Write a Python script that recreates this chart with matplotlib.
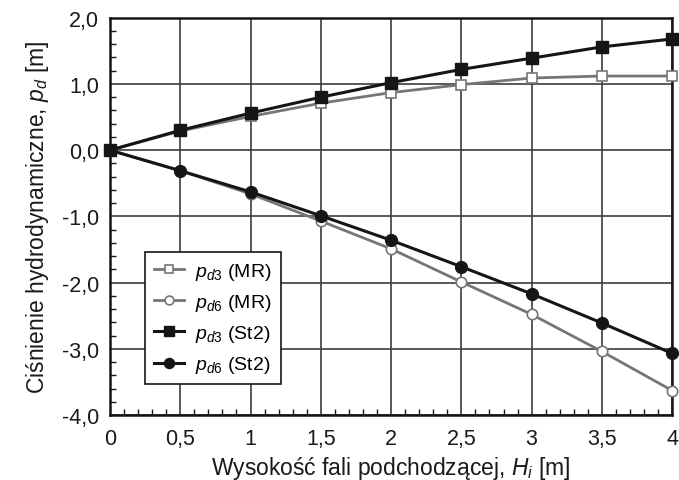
import matplotlib
matplotlib.use("Agg")
import matplotlib.pyplot as plt
from matplotlib.ticker import MultipleLocator, FuncFormatter

plt.rcParams['font.family'] = ['Liberation Sans', 'DejaVu Sans']
plt.rcParams['mathtext.fontset'] = 'custom'
plt.rcParams['mathtext.it'] = 'Liberation Sans:italic'
plt.rcParams['mathtext.rm'] = 'Liberation Sans'

H = [0, 0.5, 1, 1.5, 2, 2.5, 3, 3.5, 4]
pd3_MR = [0, 0.29, 0.51, 0.71, 0.87, 0.99, 1.09, 1.12, 1.12]
pd6_MR = [0, -0.31, -0.66, -1.07, -1.49, -1.99, -2.48, -3.04, -3.63]
pd3_St2 = [0, 0.30, 0.56, 0.80, 1.02, 1.22, 1.39, 1.56, 1.68]
pd6_St2 = [0, -0.31, -0.63, -0.99, -1.36, -1.76, -2.17, -2.61, -3.07]

labels = [r'$p_{d3}$ (MR)', r'$p_{d6}$ (MR)', r'$p_{d3}$ (St2)', r'$p_{d6}$ (St2)']

fig = plt.figure(figsize=(6.79, 4.81), dpi=100)
ax = fig.add_axes([0.162, 0.135, 0.828, 0.826])

gray = '#767676'
black = '#151515'

ax.plot(H, pd3_MR, color=gray, lw=2, marker='s', ms=7.5, mfc='white', mec=gray, mew=1.2,
        label=labels[0], zorder=3, clip_on=False)
ax.plot(H, pd6_MR, color=gray, lw=2, marker='o', ms=7.5, mfc='white', mec=gray, mew=1.2,
        label=labels[1], zorder=3, clip_on=False)
ax.plot(H, pd3_St2, color=black, lw=2.2, marker='s', ms=8.5, mfc=black, mec=black,
        label=labels[2], zorder=4, clip_on=False)
ax.plot(H, pd6_St2, color=black, lw=2.2, marker='o', ms=8.5, mfc=black, mec=black,
        label=labels[3], zorder=4, clip_on=False)

ax.set_xlim(0, 4)
ax.set_ylim(-4, 2)
ax.xaxis.set_major_locator(MultipleLocator(0.5))
ax.xaxis.set_minor_locator(MultipleLocator(0.1))
ax.yaxis.set_major_locator(MultipleLocator(1))
ax.yaxis.set_minor_locator(MultipleLocator(0.2))

def fx(v, pos):
    return ('%g' % v).replace('.', ',')

def fy(v, pos):
    return ('%.1f' % v).replace('.', ',')

ax.xaxis.set_major_formatter(FuncFormatter(fx))
ax.yaxis.set_major_formatter(FuncFormatter(fy))

ax.grid(True, which='major', color='#3c3c3c', lw=1.2)
ax.set_axisbelow(True)
ax.tick_params(which='both', direction='in', labelsize=15.5, colors='#1a1a1a')
ax.tick_params(which='major', length=0)
ax.tick_params(axis='y', which='major', pad=8)
ax.tick_params(axis='x', which='major', pad=9)
ax.tick_params(which='minor', length=4, width=1)
for s in ax.spines.values():
    s.set_color('#151515')
    s.set_linewidth(1.8)

ax.set_xlabel(r'Wysokość fali podchodzącej, $H_i$ [m]', fontsize=16.5, color='#1a1a1a', labelpad=4)
ax.set_ylabel(r'Ciśnienie hydrodynamiczne, $p_d$ [m]', fontsize=16.5, color='#1a1a1a', labelpad=8)

leg = ax.legend(loc='lower left', bbox_to_anchor=(0.062, 0.078), fontsize=14,
                frameon=True, fancybox=False, framealpha=1, edgecolor='#151515',
                handlelength=1.55, labelspacing=0.52, borderpad=0.45, handletextpad=0.6,
                borderaxespad=0, markerscale=0.85)
leg.get_frame().set_linewidth(1.2)

fig.savefig('out.png', dpi=100)
